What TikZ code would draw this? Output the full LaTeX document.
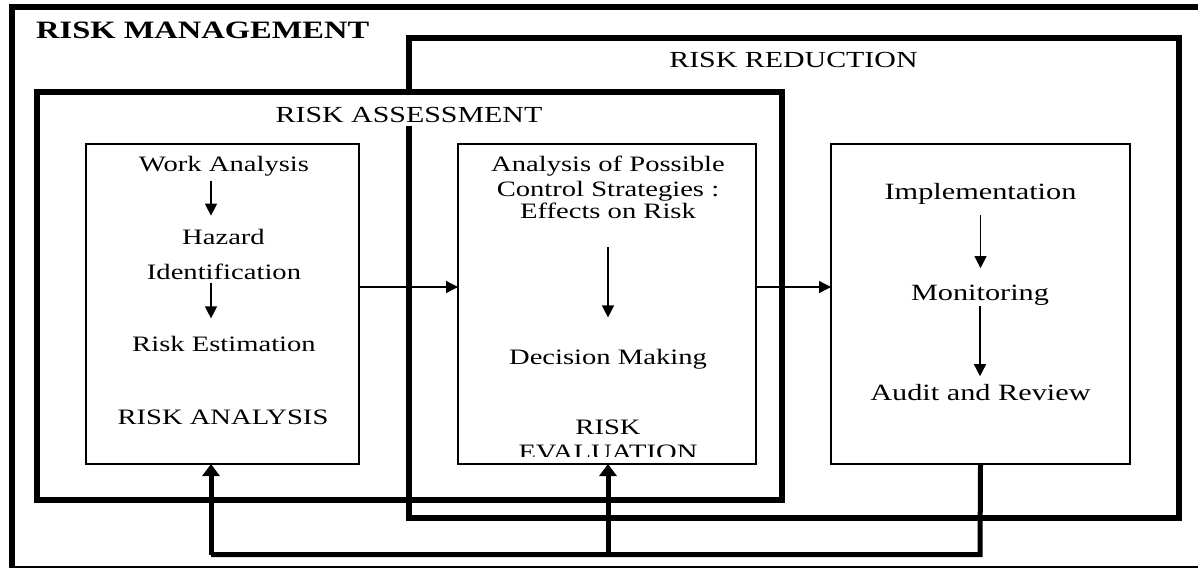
\documentclass[tikz,border=0pt]{standalone}
\usepackage{fontspec}
\setmainfont[FakeStretch=1.3]{Liberation Serif}
\usetikzlibrary{arrows.meta,calc}
\begin{document}
\begin{tikzpicture}[x=1pt,y=-1pt,
  bigbox/.style={draw,line width=6pt,inner sep=0pt,outer sep=0pt,line join=miter},
  smallbox/.style={draw,line width=1.3pt,inner sep=0pt,outer sep=0pt},
  txt/.style={anchor=base,inner sep=0pt,font=\fontsize{22}{24}\selectfont},
  txtr/.style={anchor=base,inner sep=0pt,font=\fontsize{23.3}{25}\selectfont},
  lbl/.style={anchor=base,inner sep=0pt,font=\fontsize{23}{25}\selectfont},
  thinarr/.style={line width=1.3pt,-{Triangle[length=12pt,width=12pt]}},
  fbline/.style={line width=5pt,line join=miter},
  fbarr/.style={line width=5pt,-{Triangle[length=12pt,width=17pt]}}]
\useasboundingbox (0,0) rectangle (1198,569);
\fill[white] (0,0) rectangle (1198,569);

% outer RISK MANAGEMENT frame
\draw[line width=6pt,line join=miter] (1205,7.5) -- (12,7.5) -- (12,568);
\draw[line width=1.5pt] (12,567) -- (1205,567);
\node[anchor=base west,inner sep=0pt,font=\bfseries\fontsize{25}{27}\selectfont] (rm) at (36,39) {RISK MANAGEMENT};

% RISK REDUCTION box
\node[bigbox,minimum width=770pt,minimum height=479.5pt] (red) at (794,278.25) {};
\node[lbl] (redl) at (793.5,68) {RISK REDUCTION};

% RISK ASSESSMENT label (white background)
\node[lbl,fill=white,inner xsep=3pt,text height=30pt,text depth=3pt] (assl) at (409,123) {RISK ASSESSMENT};
% RISK ASSESSMENT box
\node[bigbox,minimum width=745pt,minimum height=408pt] (ass) at (409.5,296) {};

% inner boxes
\node[smallbox,minimum width=273pt,minimum height=320pt] (ra) at (222.5,304) {};
\node[smallbox,minimum width=298pt,minimum height=320pt] (me) at (607,304) {};
\node[smallbox,minimum width=299pt,minimum height=320pt] (rr) at (980.5,304) {};

% left box texts
\node[txt] (wa) at (224,171.7) {Work Analysis};
\node[txt] (hz) at (223.5,244) {Hazard};
\node[txt] (idf) at (224,279) {Identification};
\node[txt] (rest) at (224,351.7) {Risk Estimation};
\node[txt] (ran) at (223,424) {RISK ANALYSIS};
\draw[thinarr] ([xshift=-13pt,yshift=-4pt]wa.south) -- ++(0,35);
\draw[thinarr] ([xshift=-13pt,yshift=-4pt]idf.south) -- ++(0,35);

% middle box texts
\node[txt] (ap) at (608,171.7) {Analysis of Possible};
\node[txt] (cs) at (608,196.7) {Control Strategies :};
\node[txt] (ef) at (608,219) {Effects on Risk};
\node[txt] (dm) at (608,364) {Decision Making};
\draw[thinarr] ([yshift=-28pt]ef.south) -- ++(0,70);
\node[txt] (rk) at (608,434) {RISK};
\begin{scope}
  \clip (458,430) rectangle (756,456);
  \node[txt] (ev) at (608,459) {EVALUATION};
\end{scope}

% right box texts
\node[txtr] (im) at (980.5,200) {Implementation};
\node[txtr] (mo) at (980,300) {Monitoring};
\node[txtr] (au) at (980.5,400.7) {Audit and Review};
\draw[thinarr] ([yshift=-10pt]im.south) -- ++(0,53);
\draw[thinarr] ([yshift=-1pt]mo.south) -- ++(0,70);

% horizontal arrows
\draw[thinarr] ([yshift=17pt]ra.east) -- ([yshift=17pt]me.west);
\draw[thinarr] ([yshift=17pt]me.east) -- ([yshift=17pt]rr.west);

% feedback loop
\coordinate (fbr) at (980,554.5);
\coordinate (fbl) at (211,554.5);
\coordinate (fbm) at (608,554.5);
\draw[fbline] (rr.south) -- (fbr) -- (fbl);
\draw[fbarr] (fbl) -- ([xshift=-11.5pt]ra.south);
\draw[fbarr] (fbm) -- ([xshift=1pt]me.south);
\end{tikzpicture}
\end{document}
